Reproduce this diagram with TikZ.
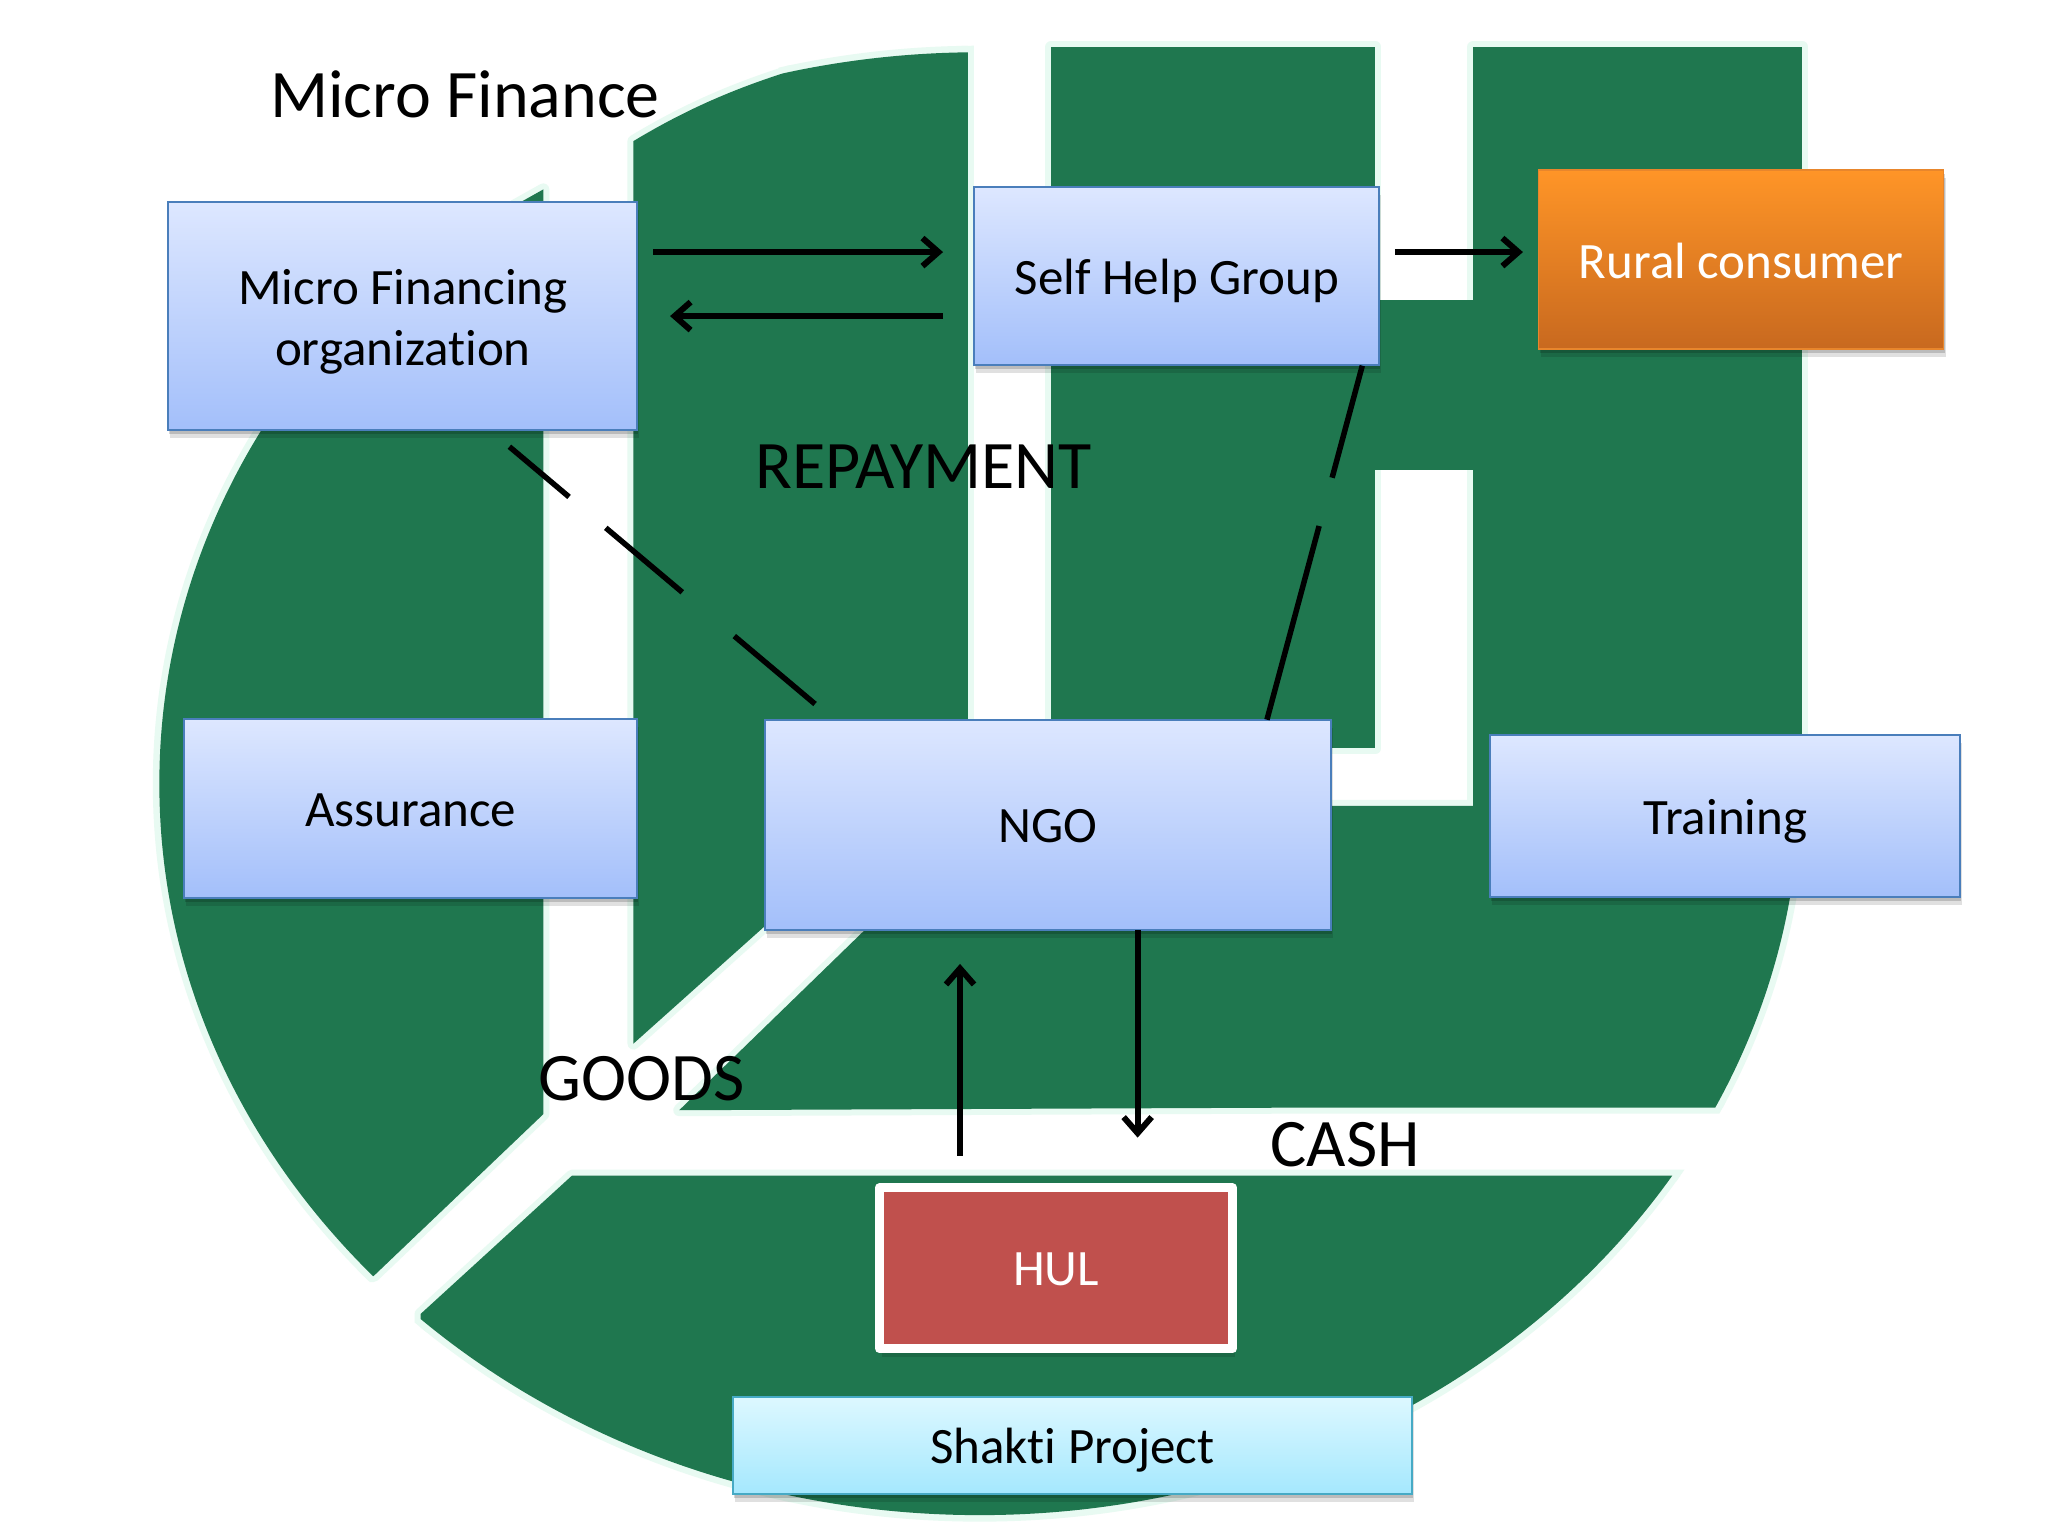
\documentclass[tikz,border=0pt]{standalone}
\usepackage{fontspec}
\setmainfont[Ligatures=NoCommon]{Carlito}
\usetikzlibrary{arrows.meta,shadows}
\definecolor{logogreen}{HTML}{1F774F}
\definecolor{halo}{HTML}{E8FAF2}
\definecolor{boxline}{HTML}{4A7EBB}
\definecolor{boxtop}{HTML}{DDE7FF}
\definecolor{boxbot}{HTML}{A3BFFA}
\definecolor{orangetop}{HTML}{FF9527}
\definecolor{orangebot}{HTML}{C8691F}
\definecolor{orangeline}{HTML}{E8862C}
\definecolor{redfill}{HTML}{C0504D}
\definecolor{cyantop}{HTML}{DDF8FF}
\definecolor{cyanbot}{HTML}{A5E8FE}
\definecolor{cyanline}{HTML}{46AAC5}
\newcommand{\lowered}[2]{\raisebox{-#1}[\height][\depth]{#2}}
\newcommand{\pieceA}{(416,145) -- (416,853) -- (286,977) -- (0,977) -- (0,210) -- (300,210) -- cycle}
\newcommand{\pieceB}{(485,108) .. controls (515,90) and (550,72) .. (600,56) -- (610,0) -- (741,0) -- (741,570) -- (485,799) -- cycle}
\newcommand{\pieceD}{(760,617) -- (1141,617) -- (1141,650) -- (1400,650) -- (1400,848) -- (1000,848) -- (520,850) -- cycle}
\newcommand{\pieceE}{(438,900) -- (1400,900) -- (1400,1176) -- (322,1176) -- (322,1006) -- cycle}
\tikzset{
  softshadow/.style={
    drop shadow={shadow xshift=2pt,shadow yshift=-8pt,opacity=.12,fill=black},
    drop shadow={shadow xshift=1pt,shadow yshift=-4pt,opacity=.16,fill=black}},
  bluebox/.style={draw=boxline,line width=2pt,top color=boxtop,bottom color=boxbot,align=center,
    softshadow,font=\fontsize{51}{61}\selectfont,text=black,inner sep=0pt},
  orangebox/.style={draw=orangeline,line width=1.5pt,top color=orangetop,bottom color=orangebot,
    softshadow,font=\fontsize{51}{61}\selectfont,text=white,inner sep=0pt},
  redbox/.style={draw=white,line width=9pt,line join=round,fill=redfill,softshadow,
    font=\fontsize{51}{61}\selectfont,text=white,inner sep=0pt},
  cyanbox/.style={draw=cyanline,line width=2pt,top color=cyantop,bottom color=cyanbot,
    softshadow,font=\fontsize{51}{61}\selectfont,text=black,inner sep=0pt},
  biglabel/.style={font=\fontsize{68}{74}\selectfont,text=black,inner sep=0pt},
  arrowline/.style={line width=6pt,black,-{Straight Barb[length=16pt,width=28pt,line width=6pt]}},
  gapline/.style={line width=5.5pt,black},
  logo/.style={fill=logogreen},
  logohalo/.style={draw=halo,fill=halo,line width=12pt,line join=round}
}
\begin{document}
\begin{tikzpicture}[x=1.3061pt,y=-1.3061pt]
\useasboundingbox[fill=white] (0,0) rectangle (1568,1176);
% soft edge around the logo
\begin{scope}
  \clip (750,600) ellipse [x radius=633,y radius=565];
  \draw[logohalo] \pieceA;
  \draw[logohalo] \pieceB;
  \draw[logohalo] \pieceD;
  \draw[logohalo] \pieceE;
\end{scope}
\draw[logohalo] (805,36) rectangle (1053,573);
\draw[logohalo] (1128,36) rectangle (1380,680);
% logo pieces cut by the large ellipse
\begin{scope}
  \clip (750,600) ellipse [x radius=628,y radius=560];
  \fill[logo] \pieceA;
  \fill[logo] \pieceB;
  \fill[logo] \pieceD;
  \fill[logo] \pieceE;
\end{scope}
\fill[logo] (805,36) rectangle (1053,573);
\fill[logo] (1128,36) rectangle (1380,680);
\fill[logo] (1053,230) rectangle (1128,360);
% coordinates for connector ends
\coordinate (a1s) at (500,193); \coordinate (a1e) at (722,193);
\coordinate (a2s) at (722,242); \coordinate (a2e) at (513,242);
\coordinate (a3s) at (1068,193); \coordinate (a3e) at (1166,193);
\coordinate (d1s) at (390,342); \coordinate (d1e) at (624,539);
\coordinate (d2s) at (1043,280); \coordinate (d2e) at (970,551);
\coordinate (upS) at (735,885); \coordinate (upE) at (735,738);
\coordinate (dnS) at (871,712); \coordinate (dnE) at (871,871);
% boxes
\node[bluebox,minimum width=469pt,minimum height=228pt] (mfo) at (308.5,242) {\lowered{6.5pt}{\begin{tabular}{@{}c@{}}Micro Financing\\organization\end{tabular}}};
\node[bluebox,minimum width=405pt,minimum height=178pt] (shg) at (901,211) {\lowered{5pt}{Self Help Group}};
\node[orangebox,minimum width=405pt,minimum height=179pt] (rural) at (1333,198.5) {\lowered{1.5pt}{Rural consumer}};
\node[bluebox,minimum width=453pt,minimum height=178pt] (assur) at (314.5,619) {\lowered{1.5pt}{Assurance}};
\node[bluebox,minimum width=566pt,minimum height=210pt] (ngo) at (802.5,631.5) {\lowered{1.5pt}{NGO}};
\node[bluebox,minimum width=470pt,minimum height=162pt] (train) at (1321,625) {\lowered{5pt}{Training}};
\node[redbox,minimum width=353pt,minimum height=161pt] (hul) at (808.5,971) {\lowered{1.5pt}{HUL}};
\node[cyanbox,minimum width=679pt,minimum height=97pt] (shakti) at (821,1106.5) {\lowered{5pt}{Shakti Project}};
% free labels
\node[biglabel] (title) at (356,72) {Micro Finance};
\node[biglabel] (repay) at (707,357) {REPAYMENT};
\node[biglabel] (goods) at (491,826) {GOODS};
\node[biglabel] (cash) at (1030,876) {CASH};
% connectors
\draw[arrowline] (a1s) -- (a1e);
\draw[arrowline] (a2s) -- (a2e);
\draw[arrowline] (a3s) -- (a3e);
\draw[arrowline] (upS) -- (upE);
\draw[arrowline] (dnS) -- (dnE);
\draw[gapline,dash pattern=on 78pt off 48pt on 100pt off 68pt on 110pt] (d1s) -- (d1e);
\draw[gapline,dash pattern=on 116pt off 50pt on 210pt] (d2s) -- (d2e);
\end{tikzpicture}
\end{document}
